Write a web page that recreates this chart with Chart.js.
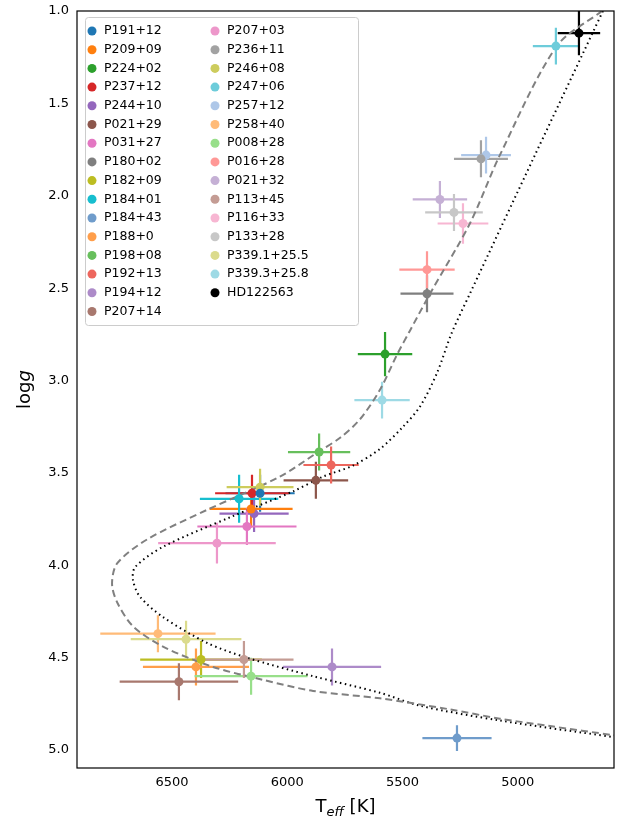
<!DOCTYPE html>
<html>
<head>
<meta charset="utf-8">
<script src="https://cdn.jsdelivr.net/npm/chart.js@4/dist/chart.umd.min.js"></script>
<style>
  body { margin: 0; background: #fff; }
  #wrap { width: 620px; height: 822px; }
</style>
</head>
<body>
<div id="wrap"><canvas id="grafico" width="620" height="822"></canvas></div>
<script>
const nomes = ["P191+12","P209+09","P224+02","P237+12","P244+10","P021+29","P031+27","P180+02","P182+09","P184+01",
  "P184+43","P188+0","P198+08","P192+13","P194+12","P207+14","P207+03","P236+11","P246+08","P247+06",
  "P257+12","P258+40","P008+28","P016+28","P021+32","P113+45","P116+33","P133+28","P339.1+25.5","P339.3+25.8","HD122563"];
const teff = [6118,6157,5576,6153,6144,5876,6175,5394,6374,6209,
  5264,6396,5862,5810,5806,6470,6305,5160,6118,4835,
  5138,6561,6157,5394,5338,6188,5238,5277,6439,5589,4735];
const logg = [3.61,3.695,2.857,3.61,3.72,3.54,3.79,2.53,4.51,3.64,
  4.935,4.55,3.387,3.457,4.55,4.63,3.88,1.80,3.577,1.19,
  1.78,4.37,4.60,2.40,2.02,4.51,2.15,2.09,4.40,3.106,1.12];
const teffErr = [150,180,118,160,150,140,215,115,264,170,
  150,230,135,120,213,257,255,117,145,100,
  108,250,245,120,118,215,110,125,240,120,92];
const loggErr = [0.1,0.1,0.12,0.1,0.1,0.1,0.1,0.1,0.1,0.13,
  0.07,0.1,0.1,0.1,0.1,0.1,0.11,0.1,0.1,0.1,
  0.1,0.1,0.1,0.1,0.1,0.1,0.11,0.1,0.1,0.1,0.12];
const cores = ["#1f77b4","#ff7f0e","#2ca02c","#d62728","#9467bd","#8c564b","#e377c2","#7f7f7f","#bcbd22","#17becf",
  "#6f9ccb","#ff9e4a","#67bf5c","#ed665d","#ad8bc9","#a8786e","#ed97ca","#a2a2a2","#cdcc5d","#6dccda",
  "#aec7e8","#ffbb78","#98df8a","#ff9896","#c5b0d5","#c49c94","#f7b6d2","#c7c7c7","#dbdb8d","#9edae5","#000000"];

// isocronas
const tracoTeff = [4635,4831,5078,5208,5381,5468,5524,5598,5685,5771,5858,6032,6348,6608,6738,6760,6738,6669,6539,6322,6105,5888,5598,5294,5078,4861,4583];
const tracoLogg = [1.0,1.19,1.78,2.15,2.53,2.73,2.86,3.05,3.21,3.31,3.38,3.52,3.70,3.86,3.99,4.10,4.20,4.33,4.44,4.55,4.62,4.68,4.72,4.78,4.83,4.87,4.92];
const pontoTeff = [4631,4926,5208,5286,5351,5424,5498,5598,5715,5845,5975,6248,6539,6660,6669,6639,6539,6348,6175,5888,5598,5424,5078,4583];
const pontoLogg = [1.0,1.78,2.53,2.74,2.96,3.14,3.25,3.37,3.46,3.52,3.60,3.74,3.90,4.01,4.08,4.17,4.28,4.42,4.50,4.60,4.69,4.76,4.84,4.93];

const xTicks = [6500,6000,5500,5000];
const yTicks = [1.0,1.5,2.0,2.5,3.0,3.5,4.0,4.5,5.0];

const datasets = [
  { type: "line", data: tracoTeff.map((t, i) => ({ x: t, y: tracoLogg[i] })), borderColor: "#808080",
    borderWidth: 2, borderDash: [7, 4], pointRadius: 0, tension: 0.3, fill: false, order: 2 },
  { type: "line", data: pontoTeff.map((t, i) => ({ x: t, y: pontoLogg[i] })), borderColor: "#000",
    borderWidth: 2, borderDash: [1.5, 3.5], pointRadius: 0, tension: 0.3, fill: false, order: 2 },
];
nomes.forEach((n, i) => {
  datasets.push({ type: "scatter", label: n, data: [{ x: teff[i], y: logg[i] }],
    backgroundColor: cores[i], borderColor: cores[i], pointRadius: 4.5, borderWidth: 0, order: 1 });
});

const barrasErro = {
  id: "barrasErro",
  beforeDatasetsDraw(chart) {
    const { ctx, scales: { x, y } } = chart;
    ctx.save();
    ctx.lineWidth = 2.2;
    nomes.forEach((n, i) => {
      ctx.strokeStyle = cores[i];
      ctx.beginPath();
      ctx.moveTo(x.getPixelForValue(teff[i] - teffErr[i]), y.getPixelForValue(logg[i]));
      ctx.lineTo(x.getPixelForValue(teff[i] + teffErr[i]), y.getPixelForValue(logg[i]));
      ctx.moveTo(x.getPixelForValue(teff[i]), y.getPixelForValue(logg[i] - loggErr[i]));
      ctx.lineTo(x.getPixelForValue(teff[i]), y.getPixelForValue(logg[i] + loggErr[i]));
      ctx.stroke();
    });
    ctx.restore();
  },
  afterDraw(chart) {
    const { ctx, chartArea: a } = chart;
    ctx.save();
    ctx.strokeStyle = "#000";
    ctx.lineWidth = 1.2;
    ctx.strokeRect(a.left, a.top, a.right - a.left, a.bottom - a.top);
    // legenda
    ctx.fillStyle = "rgba(255,255,255,0.85)";
    ctx.strokeStyle = "#ccc";
    ctx.lineWidth = 1;
    ctx.beginPath();
    ctx.roundRect(85.5, 17.5, 273, 308, 3);
    ctx.fill(); ctx.stroke();
    ctx.font = "12.5px 'DejaVu Sans'";
    ctx.textBaseline = "middle";
    nomes.forEach((n, i) => {
      const col = i < 16 ? 0 : 1;
      const row = i < 16 ? i : i - 16;
      const mx = col === 0 ? 92 : 215;
      const my = 31 + row * 18.7;
      ctx.fillStyle = cores[i];
      ctx.beginPath(); ctx.arc(mx, my, 4.5, 0, Math.PI * 2); ctx.fill();
      ctx.fillStyle = "#000";
      ctx.fillText(n, mx + 12, my);
    });
    // titulos dos eixos
    ctx.font = "18px 'DejaVu Sans'";
    ctx.textBaseline = "alphabetic";
    const cx = (a.left + a.right) / 2;
    ctx.textAlign = "left";
    const t1 = "T", w1 = ctx.measureText(t1).width;
    ctx.font = "italic 13px 'DejaVu Sans'";
    const w2 = ctx.measureText("eff").width;
    ctx.font = "18px 'DejaVu Sans'";
    const w3 = ctx.measureText(" [K]").width;
    let sx = cx - (w1 + w2 + w3) / 2;
    ctx.fillText(t1, sx, 812);
    ctx.font = "italic 13px 'DejaVu Sans'";
    ctx.fillText("eff", sx + w1, 816);
    ctx.font = "18px 'DejaVu Sans'";
    ctx.fillText(" [K]", sx + w1 + w2, 812);
    ctx.translate(30, (a.top + a.bottom) / 2);
    ctx.rotate(-Math.PI / 2);
    const l1 = ctx.measureText("log").width;
    ctx.font = "italic 18px 'DejaVu Sans'";
    const l2 = ctx.measureText("g").width;
    ctx.font = "18px 'DejaVu Sans'";
    ctx.fillText("log", -(l1 + l2) / 2, 0);
    ctx.font = "italic 18px 'DejaVu Sans'";
    ctx.fillText("g", -(l1 + l2) / 2 + l1, 0);
    ctx.restore();
  },
};

new Chart(document.getElementById("grafico"), {
  data: { datasets },
  options: {
    responsive: false,
    animation: false,
    layout: { padding: { left: 0, right: 6, top: 11, bottom: 0 } },
    plugins: { legend: { display: false }, tooltip: { enabled: false } },
    scales: {
      x: {
        type: "linear", reverse: true, min: 4583, max: 6912,
        afterBuildTicks: (s) => { s.ticks = xTicks.map((v) => ({ value: v })); },
        ticks: { color: "#000", font: { size: 13, family: "DejaVu Sans" }, padding: 2, callback: (v) => v },
        grid: { display: false, drawOnChartArea: false, drawTicks: true, tickLength: 5, color: "#000" },
        border: { display: false },
        afterFit: (s) => { s.height = 54; },
      },
      y: {
        type: "linear", reverse: true, min: 1.0, max: 5.097,
        afterBuildTicks: (s) => { s.ticks = yTicks.map((v) => ({ value: v })); },
        ticks: { color: "#000", font: { size: 13, family: "DejaVu Sans" }, padding: 3, callback: (v) => v.toFixed(1) },
        grid: { display: false, drawOnChartArea: false, drawTicks: true, tickLength: 5, color: "#000" },
        border: { display: false },
        afterFit: (s) => { s.width = 77; },
      },
    },
  },
  plugins: [barrasErro],
});
</script>
</body>
</html>
